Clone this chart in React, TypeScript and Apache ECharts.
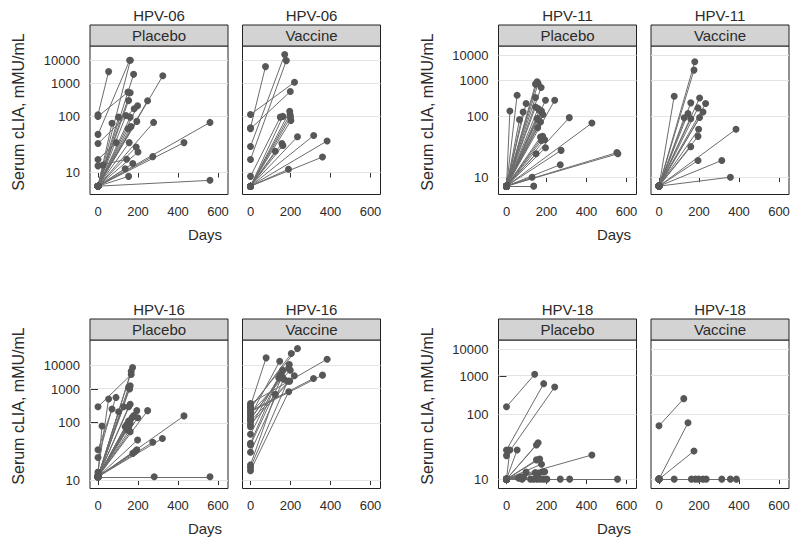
import React, { useEffect, useRef } from "react";
import * as echarts from "echarts";

// ---------------- data ----------------
const hpvTypes = ["HPV-06", "HPV-11", "HPV-16", "HPV-18"];
const groups = ["Placebo", "Vaccine"];
const yTickValues = [10, 100, 1000, 10000];
const xTickValues = [0, 200, 400, 600];
const xTitle = "Days";
const yTitle = "Serum cLIA, mMU/mL";

// each subject: [baseline day, baseline titer, follow-up day, follow-up titer]
const hpv06Placebo = [
  [0, 110, 53, 3000], [0, 100, 150, 500], [0, 40, 158, 10000], [0, 27, 181, 158],
  [0, 15, 91, 28], [0, 12.2, 143, 15.1],
  [0, 7, 162, 10000], [0, 7, 178, 2300], [0, 7, 324, 2000], [0, 7, 161, 480],
  [0, 7, 153, 270], [0, 7, 248, 268], [0, 7, 198, 190], [0, 7, 103, 96],
  [0, 7, 140, 105], [0, 7, 161, 96], [0, 7, 194, 76], [0, 7, 70, 69],
  [0, 7, 278, 72], [0, 7, 560, 72], [0, 7, 150, 52], [0, 7, 165, 58],
  [0, 7, 156, 28], [0, 7, 430, 28], [0, 7, 191, 23.5], [0, 7, 200, 19.4],
  [0, 7, 274, 16.5], [0, 7, 25, 12.5], [0, 7, 174, 13.1], [0, 7, 136, 11.2],
  [0, 7, 153, 9.0], [0, 7, 560, 8.1],
];
const hpv06Vaccine = [
  [0, 55, 75, 5000], [0, 24, 171, 19500], [0, 15, 179, 9600], [0, 52, 199, 525],
  [0, 112, 220, 1120], [0, 9, 149, 96],
  [0, 7, 196, 135], [0, 7, 198, 112], [0, 7, 200, 96], [0, 7, 202, 80],
  [0, 7, 162, 100], [0, 7, 235, 36], [0, 7, 316, 38], [0, 7, 383, 30],
  [0, 7, 157, 27], [0, 7, 162, 25], [0, 7, 124, 20], [0, 7, 360, 16.3],
  [0, 7, 190, 11],
];
const hpv11Placebo = [
  [0, 8, 17, 133], [0, 8, 53, 348], [0, 8, 65, 84], [0, 8, 83, 126], [0, 8, 98, 204],
  [0, 8, 145, 298], [0, 8, 153, 910], [0, 8, 158, 800], [0, 8, 145, 760], [0, 8, 173, 590],
  [0, 8, 145, 167], [0, 8, 158, 152], [0, 8, 165, 138], [0, 8, 175, 133], [0, 8, 182, 110],
  [0, 8, 195, 250], [0, 8, 241, 250], [0, 8, 153, 89], [0, 8, 161, 81], [0, 8, 170, 75],
  [0, 8, 156, 57], [0, 8, 314, 93], [0, 8, 427, 71], [0, 8, 170, 38], [0, 8, 181, 39],
  [0, 8, 191, 34], [0, 8, 175, 33], [0, 8, 195, 25], [0, 8, 148, 20.2], [0, 8, 273, 22.7],
  [0, 8, 269, 14.2], [0, 8, 552, 21], [0, 8, 557, 20.2], [0, 8, 128, 10], [0, 8, 136, 8],
];
const hpv11Vaccine = [
  [0, 8, 179, 5250], [0, 8, 175, 2400], [0, 8, 76, 325], [0, 8, 159, 213], [0, 8, 203, 290],
  [0, 8, 233, 204], [0, 8, 195, 158], [0, 8, 220, 126], [0, 8, 145, 115], [0, 8, 126, 92],
  [0, 8, 159, 88], [0, 8, 203, 94], [0, 8, 198, 53], [0, 8, 195, 39], [0, 8, 159, 26],
  [0, 8, 385, 53], [0, 8, 195, 16.2], [0, 8, 314, 16.2], [0, 8, 357, 10],
];
const hpv16Placebo = [
  [0, 265, 166, 3740], [0, 27.6, 90, 515], [0, 20.6, 70, 228], [0, 12.7, 53, 457],
  [0, 11.8, 20, 83],
  [0, 11, 173, 7800], [0, 11, 166, 5260], [0, 11, 161, 1320], [0, 11, 158, 1000],
  [0, 11, 153, 1150], [0, 11, 161, 312], [0, 11, 153, 265], [0, 11, 128, 265],
  [0, 11, 103, 191], [0, 11, 194, 205], [0, 11, 248, 205], [0, 11, 178, 150],
  [0, 11, 170, 133], [0, 11, 199, 133], [0, 11, 153, 110], [0, 11, 161, 96],
  [0, 11, 145, 91], [0, 11, 136, 80], [0, 11, 145, 68], [0, 11, 161, 62],
  [0, 11, 153, 76], [0, 11, 430, 148], [0, 11, 198, 42], [0, 11, 274, 38],
  [0, 11, 322, 45], [0, 11, 194, 27.6], [0, 11, 186, 25.8], [0, 11, 174, 24],
  [0, 11, 281, 11], [0, 11, 560, 11],
];
const hpv16Vaccine = [
  [0, 13.2, 191, 800], [0, 14.6, 186, 2000], [0, 15.9, 124, 650], [0, 25.1, 166, 2400],
  [0, 33.8, 158, 3000], [0, 36.3, 141, 2740], [0, 54.7, 150, 3740], [0, 80, 161, 5850],
  [0, 91.5, 196, 2000], [0, 110, 219, 3300], [0, 128, 191, 7400], [0, 150, 146, 15800],
  [0, 174, 199, 5850], [0, 200, 315, 2560], [0, 238, 204, 40000], [0, 284, 78, 23400],
  [0, 333, 383, 20000], [0, 120, 194, 10800], [0, 190, 360, 3530], [0, 260, 235, 77000],
];
const hpv18Placebo = [
  [0, 146, 141, 1150], [0, 23.2, 186, 590], [0, 19.3, 241, 470],
  [0, 10, 53, 23.2], [0, 10, 17, 23.2], [0, 10, 158, 29.9], [0, 10, 150, 27.6],
  [0, 10, 150, 16.9], [0, 10, 166, 17.4], [0, 10, 175, 14.9], [0, 10, 161, 11.6],
  [0, 10, 181, 12.1], [0, 10, 191, 12.1], [0, 10, 144, 11.8], [0, 10, 98, 12],
  [0, 10, 427, 19.7], [0, 10, 86, 10.4], [0, 10, 61, 10.2], [0, 10, 78, 10],
  [0, 10, 70, 10.5], [0, 10, 120, 10], [0, 10, 136, 10], [0, 10, 153, 10],
  [0, 10, 170, 10], [0, 10, 186, 10], [0, 10, 202, 10], [0, 10, 269, 10],
  [0, 10, 316, 10], [0, 10, 555, 10],
];
const hpv18Vaccine = [
  [0, 58.5, 124, 230], [0, 10, 145, 66.7], [0, 10, 175, 22.4], [0, 10, 76, 10],
  [0, 10, 162, 10], [0, 10, 182, 10], [0, 10, 198, 10], [0, 10, 220, 10],
  [0, 10, 236, 10], [0, 10, 314, 10], [0, 10, 357, 10], [0, 10, 387, 10],
];

const panelData = [
  [hpv06Placebo, hpv06Vaccine],
  [hpv11Placebo, hpv11Vaccine],
  [hpv16Placebo, hpv16Vaccine],
  [hpv18Placebo, hpv18Vaccine],
];

// ---------------- layout / scale ----------------
// y is drawn on a log(log) scale: position = log10(log10(titer))
const tr = (v: number) => Math.log10(Math.log10(v));
const inv = (p: number) => Math.pow(10, Math.pow(10, p));
const yRange = [
  [-0.1176, 0.6785],
  [-0.0856, 0.648],
  [-0.0439, 0.734],
  [-0.0434, 0.645],
];
const X_MIN = -40;
const X_MAX = 650;
const PANEL_W = 138;
const PANEL_H = 148.5;
const colLefts = [
  [90, 242.5],
  [498.5, 651],
];
const rowTops = [46, 340];
const FONT = "'Liberation Sans', Arial, Helvetica, sans-serif";
const TXT = "#2b2b2b";

function buildOption() {
  const grid: any[] = [];
  const xAxis: any[] = [];
  const yAxis: any[] = [];
  const series: any[] = [];
  const graphic: any[] = [];

  hpvTypes.forEach((hpv, t) => {
    const row = Math.floor(t / 2);
    const col = t % 2;
    const top = rowTops[row];
    groups.forEach((g, gi) => {
      const k = t * 2 + gi;
      const left = colLefts[col][gi];
      grid.push({
        left, top, width: PANEL_W, height: PANEL_H,
        show: true, borderColor: "#222", borderWidth: 1, backgroundColor: "#fff",
        containLabel: false,
      });
      xAxis.push({
        gridIndex: k, type: "value", min: X_MIN, max: X_MAX,
        axisLine: { show: false },
        axisTick: { show: true, length: 5, customValues: xTickValues, lineStyle: { color: "#333" } },
        axisLabel: { show: true, customValues: xTickValues, margin: 10, fontSize: 13, color: TXT, fontFamily: FONT },
        splitLine: { show: false },
      });
      const tickPos = yTickValues.map(tr);
      yAxis.push({
        gridIndex: k, type: "value", min: yRange[t][0], max: yRange[t][1],
        axisLine: { show: false },
        axisTick: { show: gi === 0, length: 7, customValues: tickPos, lineStyle: { color: "#333" } },
        axisLabel: {
          show: gi === 0, customValues: tickPos, margin: 10, fontSize: 13, color: TXT, fontFamily: FONT,
          formatter: (v: number) => String(Math.round(inv(v))),
        },
        splitLine: { show: false },
      });
      const subjects = panelData[t][gi];
      series.push({
        type: "scatter", xAxisIndex: k, yAxisIndex: k, data: [], silent: true, z: 1,
        markLine: {
          z: 1, zlevel: 0,
          silent: true, symbol: ["none", "none"], label: { show: false },
          lineStyle: { color: "#e4e4e4", width: 1, type: "solid" },
          emphasis: { disabled: true },
          data: yTickValues.map((v) => ({ yAxis: tr(v) })),
        },
      });
      series.push({
        type: "lines", coordinateSystem: "cartesian2d", xAxisIndex: k, yAxisIndex: k,
        silent: true, z: 2,
        lineStyle: { color: "#6c6c6c", width: 1, opacity: 1 },
        data: subjects.map((s) => ({ coords: [[s[0], tr(s[1])], [s[2], tr(s[3])]] })),
      });
      series.push({
        type: "scatter", xAxisIndex: k, yAxisIndex: k, silent: true, z: 3,
        symbol: "circle", symbolSize: 7,
        itemStyle: { color: "#575757", opacity: 1 },
        data: subjects.flatMap((s) => [[s[0], tr(s[1])], [s[2], tr(s[3])]]),
      });
      // strip
      graphic.push({
        type: "rect", z: 10,
        shape: { x: left, y: top - 21, width: PANEL_W, height: 21 },
        style: { fill: "#d3d3d3", stroke: "#222", lineWidth: 1 },
      });
      graphic.push({
        type: "text", z: 11, x: left + PANEL_W / 2, y: top - 10.5,
        style: { text: g, fontSize: 15, fontFamily: FONT, fill: TXT, align: "center", verticalAlign: "middle" },
      });
      graphic.push({
        type: "text", z: 11, x: left + PANEL_W / 2, y: top - 31,
        style: { text: hpv, fontSize: 15, fontFamily: FONT, fill: TXT, align: "center", verticalAlign: "middle" },
      });
    });
    // axis titles for the pair
    graphic.push({
      type: "text", z: 11, x: col === 0 ? 205 : 614, y: top + PANEL_H + 40,
      style: { text: xTitle, fontSize: 15, fontFamily: FONT, fill: TXT, align: "center", verticalAlign: "middle" },
    });
    graphic.push({
      type: "text", z: 11, x: col === 0 ? 18 : 427, y: top + 66, rotation: Math.PI / 2,
      style: { text: yTitle, fontSize: 16, fontFamily: FONT, fill: TXT, align: "center", verticalAlign: "middle" },
    });
  });

  return {
    animation: false,
    backgroundColor: "#fff",
    grid, xAxis, yAxis, series, graphic,
  };
}

export default function App() {
  const ref = useRef<HTMLDivElement>(null);
  useEffect(() => {
    if (!ref.current) return;
    const chart = echarts.init(ref.current, undefined, { renderer: "svg" });
    chart.setOption(buildOption() as any);
    return () => chart.dispose();
  }, []);
  return (
    <div
      ref={ref}
      style={{ position: "fixed", left: 0, top: 0, width: 800, height: 549, background: "#fff" }}
    />
  );
}
